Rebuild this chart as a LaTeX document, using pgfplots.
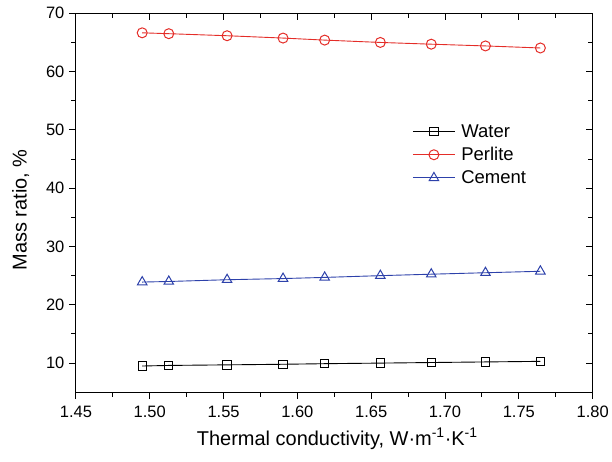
\documentclass[border=0pt]{standalone}
\usepackage{fontspec}
\setmainfont{Liberation Sans}
\usepackage{pgfplots}
\pgfplotsset{compat=1.18}
\definecolor{pred}{RGB}{228,45,40}
\definecolor{cblue}{RGB}{45,65,170}
\begin{document}
\begin{tikzpicture}
\pgfplotsset{
  common/.style={
    scale only axis, width=517.3pt, height=379.4pt,
    xmin=1.45, xmax=1.80, ymin=5, ymax=70,
    xtick={1.45,1.50,...,1.80}, ytick={10,20,...,70},
    minor x tick num=1, minor y tick num=1,
    axis line style={line width=1pt},
    every tick/.style={line width=1pt, black},
    major tick length=7pt, minor tick length=4.5pt,
    /pgf/number format/assume math mode=true,
  }
}
\begin{axis}[common,
  tick pos=left, tick align=outside,
  x tick label style={/pgf/number format/fixed, /pgf/number format/fixed zerofill, /pgf/number format/precision=2, yshift=-3pt},
  ticklabel style={font=\fontsize{16.5}{18}\selectfont},
  y tick label style={xshift=-1pt},
  xlabel={Thermal conductivity, W·m\textsuperscript{-1}·K\textsuperscript{-1}},
  ylabel={Mass ratio, \%},
  label style={font=\fontsize{20}{22}\selectfont},
  xlabel shift=4pt,
  xlabel style={xshift=3pt},
  ylabel shift=10pt,
  ylabel style={xshift=-7pt},
  legend style={draw=none, fill=none, at={(0.651,0.712)}, anchor=north west,
    font=\fontsize{18.5}{20}\selectfont, row sep=4.5pt, column sep=4pt, inner sep=0pt,
    nodes={inner sep=2pt}},
  legend cell align=left,
  legend image code/.code={\draw[mark repeat=2,mark phase=2] plot coordinates {(0pt,0pt) (21pt,0pt) (42pt,0pt)};},
]
\addplot[black, line width=0.9pt, mark=square, mark size=4.2pt, mark options={line width=1pt, fill=white}]
coordinates {(1.4949,9.5) (1.5129,9.6) (1.5524,9.7) (1.5903,9.8) (1.6185,9.9) (1.6562,10.0) (1.6907,10.1) (1.7274,10.2) (1.7646,10.3)};
\addlegendentry{Water}
\addplot[pred, line width=0.9pt, mark=o, mark size=5pt, mark options={line width=1pt, fill=white}]
coordinates {(1.4949,66.65) (1.5129,66.5) (1.5524,66.15) (1.5903,65.75) (1.6185,65.4) (1.6562,65.0) (1.6907,64.7) (1.7274,64.4) (1.7646,64.05)};
\addlegendentry{Perlite}
\addplot[cblue, line width=0.9pt, mark=triangle, mark size=5.5pt, mark options={line width=1pt, fill=white}]
coordinates {(1.4949,23.9) (1.5129,24.0) (1.5524,24.3) (1.5903,24.5) (1.6185,24.7) (1.6562,25.0) (1.6907,25.25) (1.7274,25.5) (1.7646,25.75)};
\addlegendentry{Cement}
\end{axis}
\begin{axis}[common,
  tick pos=right, tick align=inside,
  xticklabels={}, yticklabels={},
]
\end{axis}
\path ([shift={(-76pt,-69.3pt)}]current axis.south west) rectangle ([shift={(18.7pt,13.3pt)}]current axis.north east);
\end{tikzpicture}
\end{document}
